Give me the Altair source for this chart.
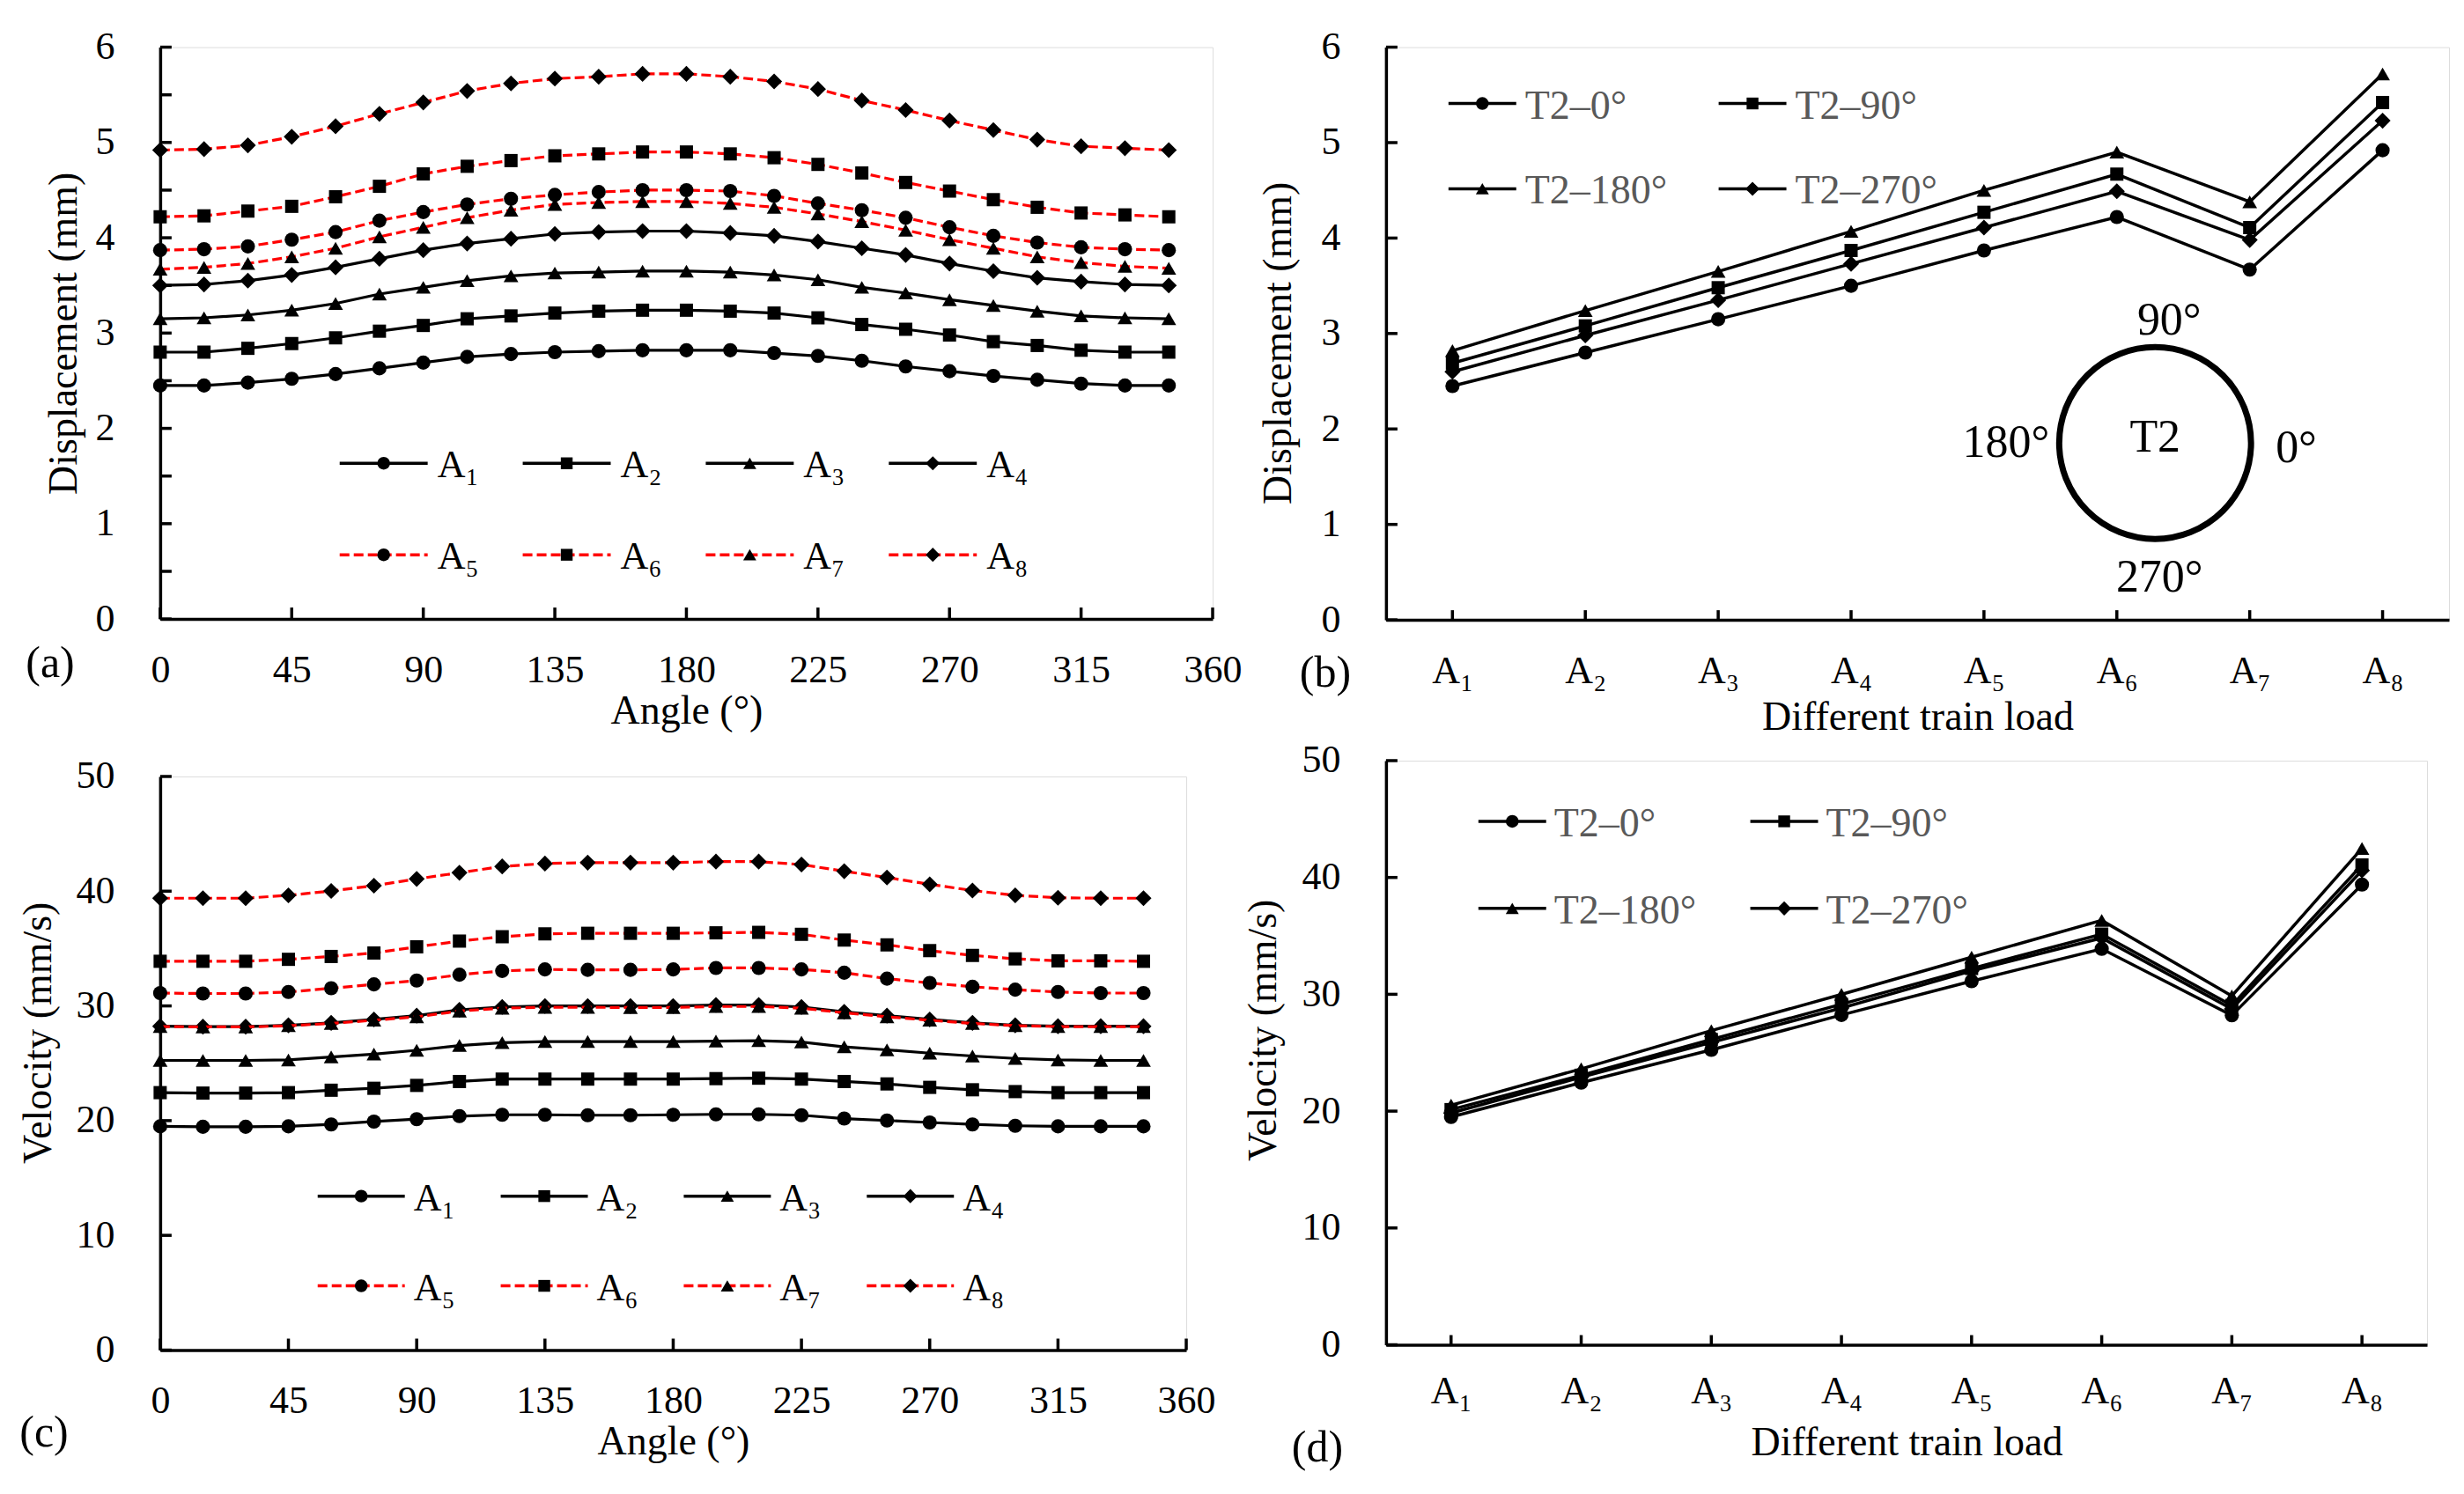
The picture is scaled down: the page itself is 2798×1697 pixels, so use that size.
import altair as alt
import pandas as pd

FONT = "Liberation Serif"

# ---------------- data ----------------
ANGLES = list(range(0, 360, 15))            # 0 .. 345 degrees
ANGLE_TICKS = [0, 45, 90, 135, 180, 225, 270, 315, 360]
LOADS = ["A₁", "A₂", "A₃", "A₄", "A₅", "A₆", "A₇", "A₈"]

# (a) displacement (mm) around the ring, one list per train load
DISP_A1 = [2.45, 2.45, 2.48, 2.52, 2.57, 2.63, 2.69, 2.75, 2.78, 2.80, 2.81, 2.82,
           2.82, 2.82, 2.79, 2.76, 2.71, 2.65, 2.60, 2.55, 2.51, 2.47, 2.45, 2.45]
DISP_A2 = [2.80, 2.80, 2.84, 2.89, 2.95, 3.02, 3.08, 3.15, 3.18, 3.21, 3.23, 3.24,
           3.24, 3.23, 3.21, 3.16, 3.09, 3.04, 2.98, 2.91, 2.87, 2.82, 2.80, 2.80]
DISP_A3 = [3.15, 3.16, 3.19, 3.24, 3.31, 3.41, 3.48, 3.55, 3.60, 3.63, 3.64, 3.65,
           3.65, 3.64, 3.61, 3.56, 3.48, 3.42, 3.35, 3.29, 3.23, 3.18, 3.16, 3.15]
DISP_A4 = [3.50, 3.51, 3.55, 3.61, 3.69, 3.78, 3.87, 3.94, 3.99, 4.04, 4.06, 4.07,
           4.07, 4.05, 4.02, 3.96, 3.89, 3.82, 3.73, 3.65, 3.58, 3.54, 3.51, 3.50]
DISP_A5 = [3.87, 3.88, 3.91, 3.98, 4.06, 4.18, 4.27, 4.35, 4.41, 4.45, 4.48, 4.50,
           4.50, 4.49, 4.44, 4.36, 4.29, 4.21, 4.11, 4.02, 3.95, 3.90, 3.88, 3.87]
DISP_A6 = [4.22, 4.23, 4.28, 4.33, 4.43, 4.54, 4.67, 4.75, 4.81, 4.86, 4.88, 4.90,
           4.90, 4.88, 4.84, 4.77, 4.68, 4.58, 4.49, 4.40, 4.32, 4.26, 4.24, 4.22]
DISP_A7 = [3.67, 3.69, 3.73, 3.80, 3.89, 4.01, 4.11, 4.21, 4.29, 4.35, 4.37, 4.38,
           4.38, 4.36, 4.32, 4.25, 4.17, 4.08, 3.98, 3.89, 3.80, 3.74, 3.70, 3.68]
DISP_A8 = [4.92, 4.93, 4.97, 5.06, 5.17, 5.30, 5.42, 5.54, 5.62, 5.67, 5.69, 5.72,
           5.72, 5.69, 5.64, 5.56, 5.44, 5.34, 5.23, 5.13, 5.03, 4.96, 4.94, 4.92]
DISP = [DISP_A1, DISP_A2, DISP_A3, DISP_A4, DISP_A5, DISP_A6, DISP_A7, DISP_A8]

# (c) velocity (mm/s) around the ring
VEL_A1 = [19.50, 19.46, 19.46, 19.50, 19.67, 19.92, 20.13, 20.39, 20.51, 20.51, 20.47, 20.47,
          20.51, 20.55, 20.55, 20.47, 20.18, 20.01, 19.84, 19.67, 19.55, 19.50, 19.50, 19.50]
VEL_A2 = [22.44, 22.40, 22.40, 22.44, 22.65, 22.82, 23.07, 23.41, 23.62, 23.62, 23.62, 23.62,
          23.62, 23.66, 23.70, 23.62, 23.41, 23.20, 22.90, 22.69, 22.53, 22.44, 22.44, 22.44]
VEL_A3 = [25.25, 25.25, 25.25, 25.29, 25.55, 25.80, 26.13, 26.55, 26.80, 26.89, 26.89, 26.89,
          26.89, 26.93, 26.97, 26.85, 26.43, 26.17, 25.88, 25.63, 25.42, 25.29, 25.25, 25.25]
VEL_A4 = [28.23, 28.19, 28.19, 28.31, 28.52, 28.82, 29.15, 29.66, 29.91, 29.99, 29.99, 29.99,
          29.99, 30.08, 30.08, 29.91, 29.49, 29.15, 28.82, 28.52, 28.31, 28.23, 28.23, 28.23]
VEL_A5 = [31.12, 31.08, 31.08, 31.21, 31.54, 31.88, 32.21, 32.72, 33.05, 33.18, 33.14, 33.14,
          33.18, 33.31, 33.31, 33.18, 32.89, 32.38, 32.00, 31.67, 31.42, 31.21, 31.12, 31.12]
VEL_A6 = [33.89, 33.89, 33.89, 34.06, 34.31, 34.61, 35.15, 35.65, 36.03, 36.28, 36.33, 36.33,
          36.33, 36.37, 36.41, 36.24, 35.74, 35.32, 34.82, 34.40, 34.10, 33.93, 33.93, 33.89]
VEL_A7 = [28.20, 28.17, 28.17, 28.27, 28.47, 28.75, 29.05, 29.55, 29.80, 29.88, 29.88, 29.86,
          29.86, 29.95, 29.95, 29.80, 29.40, 29.05, 28.75, 28.47, 28.28, 28.20, 28.20, 28.20]
VEL_A8 = [39.39, 39.39, 39.39, 39.64, 40.02, 40.48, 41.07, 41.61, 42.16, 42.41, 42.49, 42.49,
          42.49, 42.58, 42.58, 42.32, 41.74, 41.19, 40.60, 40.06, 39.64, 39.43, 39.39, 39.39]
VEL = [VEL_A1, VEL_A2, VEL_A3, VEL_A4, VEL_A5, VEL_A6, VEL_A7, VEL_A8]

# (b)/(d): the same results read at four monitoring points of ring T2
T2_NAMES = ["T2–0°", "T2–90°", "T2–180°", "T2–270°"]
T2_ANGLES = [0, 90, 180, 270]

# ---------------- styles ----------------
BLACK = "#000000"
RED = "#FF0000"
GREY = "#595959"
SHAPES = ["circle", "square", "triangle-up", "diamond"]
MSIZE = [260, 225, 280, 330]
LSIZE = [210, 180, 220, 260]
DASH = [11, 5]


def long_angle(values):
    rows = []
    for s, vals in zip(LOADS, values):
        for a, v in zip(ANGLES, vals):
            rows.append({"angle": a, "value": v, "series": s})
    return pd.DataFrame(rows)


def long_t2(values):
    rows = []
    for name, ang in zip(T2_NAMES, T2_ANGLES):
        k = ANGLES.index(ang)
        for s, vals in zip(LOADS, values):
            rows.append({"load": s, "value": vals[k], "series": name})
    return pd.DataFrame(rows)


def ax(**kw):
    return alt.Axis(grid=False, ticks=False, tickSize=0, domainColor=BLACK, domainWidth=3.5,
                    labelFont=FONT, labelFontSize=44, labelColor=BLACK, labelFlush=False,
                    labelOverlap=False, titleFont=FONT, titleFontSize=46, titleFontWeight="normal",
                    titleColor=BLACK, titleAlign="center", titleBaseline="middle", **kw)


def text_layer(txt, x, y, size, color=BLACK, align="center"):
    return alt.Chart(pd.DataFrame({"t": [txt]})).mark_text(
        font=FONT, fontSize=size, color=color, align=align, baseline="middle"
    ).encode(x=alt.value(x), y=alt.value(y), text="t:N")


def legend_entry(name, shape, lsize, color, dashed, x0, x1, y, tx, tcolor, tsize):
    d = pd.DataFrame({"t": [name]})
    kw = {"color": color, "strokeWidth": 3.5}
    if dashed:
        kw["strokeDash"] = DASH
    return [
        alt.Chart(d).mark_rule(**kw).encode(x=alt.value(x0), x2=alt.value(x1), y=alt.value(y)),
        alt.Chart(d).mark_point(shape=shape, filled=True, color=BLACK, opacity=1, size=lsize)
        .encode(x=alt.value((x0 + x1) / 2), y=alt.value(y)),
        alt.Chart(d).mark_text(font=FONT, fontSize=tsize, color=tcolor, align="left", baseline="middle")
        .encode(x=alt.value(tx), y=alt.value(y + 3), text="t:N"),
    ]


def angle_panel(values, w, h, ymax, ylabels, yticks, ytitle, ytx, yty, xty, leg, label, lab):
    df = long_angle(values)
    X = alt.X("angle:Q", scale=alt.Scale(domain=[0, 360], nice=False, zero=False),
              axis=ax(values=ANGLE_TICKS, title="Angle (°)", labelPadding=36,
                      titleX=w / 2, titleY=xty))
    Y = alt.Y("value:Q", scale=alt.Scale(domain=[0, ymax], nice=False),
              axis=ax(values=ylabels, title=ytitle, labelPadding=52, titleX=ytx, titleY=yty))
    base = alt.Chart(df)
    layers = []
    for i, s in enumerate(LOADS):
        f = base.transform_filter(alt.datum.series == s)
        kw = {"color": BLACK if i < 4 else RED, "strokeWidth": 3.2}
        if i >= 4:
            kw["strokeDash"] = DASH
        layers.append(f.mark_line(**kw).encode(x=X, y=Y))
        layers.append(f.mark_point(shape=SHAPES[i % 4], filled=True, color=BLACK, opacity=1,
                                   size=MSIZE[i % 4]).encode(x=X, y=Y))
    # inward tick marks, placed through the same scales
    layers.append(alt.Chart(pd.DataFrame({"value": yticks})).mark_rule(color=BLACK, strokeWidth=3.5)
                  .encode(y=Y, x=alt.value(0), x2=alt.value(13)))
    layers.append(alt.Chart(pd.DataFrame({"angle": ANGLE_TICKS})).mark_rule(color=BLACK, strokeWidth=3.5)
                  .encode(x=X, y=alt.value(h), y2=alt.value(h - 13)))
    lx0, llen, ltx, ldx, ly0, ldy = leg
    for i, s in enumerate(LOADS):
        c, r = i % 4, i // 4
        x0 = lx0 + c * ldx
        layers += legend_entry(s, SHAPES[i % 4], LSIZE[i % 4], BLACK if i < 4 else RED, i >= 4,
                               x0, x0 + llen, ly0 + r * ldy, x0 + ltx, BLACK, 44)
    layers.append(text_layer(label, lab[0], lab[1], 50))
    return alt.layer(*layers).properties(width=w, height=h)


def t2_panel(values, w, h, ymax, ylabels, ytitle, ytx, yty, xty, xlp, leg, label, lab, inset=None):
    df = long_t2(values)
    xscale = alt.Scale(type="point", padding=0.5, domain=LOADS)
    X = alt.X("load:N", sort=LOADS, scale=xscale,
              axis=ax(title="Different train load", labelPadding=xlp, labelAngle=0,
                      titleX=w / 2, titleY=xty))
    Y = alt.Y("value:Q", scale=alt.Scale(domain=[0, ymax], nice=False),
              axis=ax(values=ylabels, title=ytitle, labelPadding=52, titleX=ytx, titleY=yty))
    base = alt.Chart(df)
    layers = []
    for i, s in enumerate(T2_NAMES):
        f = base.transform_filter(alt.datum.series == s)
        layers.append(f.mark_line(color=BLACK, strokeWidth=3.5).encode(x=X, y=Y))
        layers.append(f.mark_point(shape=SHAPES[i], filled=True, color=BLACK, opacity=1,
                                   size=MSIZE[i]).encode(x=X, y=Y))
    layers.append(alt.Chart(pd.DataFrame({"value": ylabels})).mark_rule(color=BLACK, strokeWidth=3.5)
                  .encode(y=Y, x=alt.value(0), x2=alt.value(13)))
    layers.append(alt.Chart(pd.DataFrame({"load": LOADS})).mark_rule(color=BLACK, strokeWidth=3.5)
                  .encode(x=X, y=alt.value(h), y2=alt.value(h - 11)))
    lx0, llen, ltx, ldx, ly0, ldy = leg
    for i, s in enumerate(T2_NAMES):
        c, r = i % 2, i // 2
        x0 = lx0 + c * ldx
        layers += legend_entry(s, SHAPES[i], LSIZE[i], BLACK, False,
                               x0, x0 + llen, ly0 + r * ldy, x0 + ltx, GREY, 46)
    if inset is not None:
        cx, cy = inset
        layers.append(alt.Chart(pd.DataFrame({"t": ["ring"]})).mark_point(
            shape="circle", filled=False, color=BLACK, strokeWidth=7, opacity=1, size=218 * 218
        ).encode(x=alt.value(cx), y=alt.value(cy)))
        layers.append(text_layer("T2", cx, cy - 6, 52))
        layers.append(text_layer("90°", cx + 16, cy - 139, 52))
        layers.append(text_layer("270°", cx + 5, cy + 153, 52))
        layers.append(text_layer("180°", cx - 120, cy, 52, align="right"))
        layers.append(text_layer("0°", cx + 137, cy + 6, 52, align="left"))
    layers.append(text_layer(label, lab[0], lab[1], 50))
    return alt.layer(*layers).properties(width=w, height=h)


# ---------------- panels ----------------
pa = angle_panel(DISP, 1196, 650, 6, [0, 1, 2, 3, 4, 5, 6],
                 [0, 0.5, 1, 1.5, 2, 2.5, 3, 3.5, 4, 4.5, 5, 5.5, 6],
                 "Displacement (mm)", -109, 325, 104,
                 (204, 100, 111, 208, 473, 104), "(a)", (-125, 701))

pc = angle_panel(VEL, 1166, 652, 50, [0, 10, 20, 30, 40, 50], [0, 10, 20, 30, 40, 50],
                 "Velocity (mm/s)", -138, 291, 104,
                 (179, 99, 109, 208, 477, 102), "(c)", (-132, 747))

pb = t2_panel(DISP, 1208, 651, 6, [0, 1, 2, 3, 4, 5, 6],
              "Displacement (mm)", -122, 336, 110, 36,
              (71, 77, 87, 307, 64, 97), "(b)", (-69, 712), inset=(874, 450))

pd_ = t2_panel(VEL, 1183, 664, 50, [0, 10, 20, 30, 40, 50],
               "Velocity (mm/s)", -139, 306, 111, 31,
               (105, 77, 86, 309, 69, 99), "(d)", (-78, 782))

col_left = alt.vconcat(pa, pc, spacing=179, bounds="flush")
col_right = alt.vconcat(pb, pd_, spacing=160, bounds="flush")

chart = alt.hconcat(col_left, col_right, spacing=0).properties(
    padding={"left": 12, "top": 22, "right": 8, "bottom": 8}
).configure_view(stroke="transparent", strokeWidth=0).configure(background="white")

chart.save("out.html", embed_options={"renderer": "svg", "actions": False})
